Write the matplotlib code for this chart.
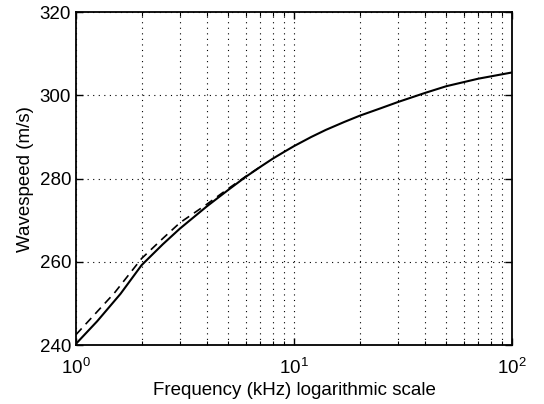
import matplotlib
matplotlib.use("Agg")
import matplotlib.pyplot as plt
from matplotlib.ticker import LogLocator, NullFormatter

plt.rcParams['font.family'] = ['Liberation Sans', 'DejaVu Sans']
plt.rcParams['mathtext.fontset'] = 'custom'
plt.rcParams['mathtext.rm'] = 'Liberation Sans'
plt.rcParams['mathtext.it'] = 'Liberation Sans'

freq_solid = [1, 1.25, 1.6, 2, 2.5, 3, 4, 5, 6, 7, 8, 9, 10, 12, 14, 17, 20, 25, 30, 40, 50, 70, 100]
speed_solid = [240.3, 245.7, 252.3, 259.2, 264.2, 268.0, 273.4, 277.3, 280.4, 282.8, 284.8,
               286.4, 287.8, 290.0, 291.7, 293.6, 295.1, 296.9, 298.4, 300.6, 302.2, 304.0, 305.5]
freq_dashed = [1, 1.5, 2, 2.5, 3, 4, 5, 6, 7]
speed_dashed = [242.5, 252.5, 260.8, 265.6, 269.4, 273.9, 277.6, 280.5, 282.8]

fig = plt.figure(figsize=(5.44, 4.04), dpi=100)
ax = fig.add_axes([0.1397, 0.146, 0.8015, 0.824])

ax.plot(freq_solid, speed_solid, color='black', lw=1.5, zorder=3)
ax.plot(freq_dashed, speed_dashed, color='black', lw=1.2, ls=(0, (5, 3.5)), zorder=3)

ax.set_xscale('log')
ax.set_xlim(1, 100)
ax.set_ylim(240, 320)
ax.set_yticks([240, 260, 280, 300, 320])
ax.xaxis.set_major_locator(LogLocator(base=10, numticks=10))
ax.xaxis.set_minor_locator(LogLocator(base=10, subs=range(2, 10), numticks=20))
ax.xaxis.set_minor_formatter(NullFormatter())

ax.grid(True, which='major', color='black', ls=(0, (1, 4)), lw=0.8)
ax.grid(True, which='minor', axis='x', color='black', ls=(0, (1, 4)), lw=0.8)

ax.tick_params(which='both', direction='in', top=True, right=True, labelsize=13.5)
ax.tick_params(which='major', length=5, width=1)
ax.tick_params(which='minor', length=3, width=0.8)
ax.tick_params(axis='x', which='major', pad=9)
for s in ax.spines.values():
    s.set_linewidth(1.3)

ax.set_xlabel('Frequency (kHz) logarithmic scale', fontsize=13.5, labelpad=3)
ax.set_ylabel('Wavespeed (m/s)', fontsize=13.5, labelpad=4)

fig.savefig('out.png', dpi=100)
